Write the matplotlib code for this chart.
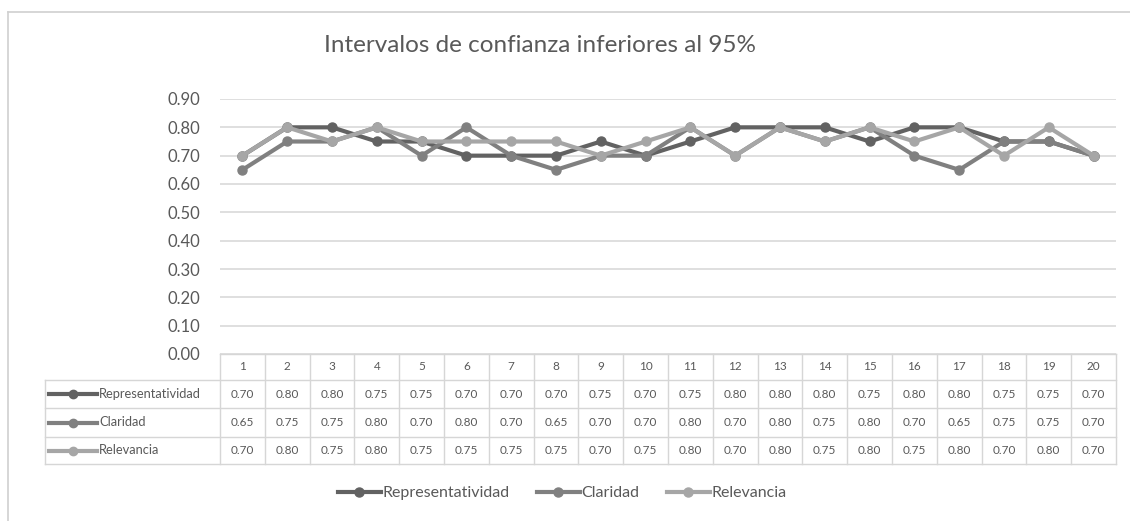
import matplotlib
matplotlib.use("Agg")
import matplotlib.pyplot as plt
from matplotlib.lines import Line2D

plt.rcParams['font.family'] = ['Lato', 'DejaVu Sans']

categories = [str(i) for i in range(1, 21)]
series_names = ["Representatividad", "Claridad", "Relevancia"]
representatividad = [0.70, 0.80, 0.80, 0.75, 0.75, 0.70, 0.70, 0.70, 0.75, 0.70,
                     0.75, 0.80, 0.80, 0.80, 0.75, 0.80, 0.80, 0.75, 0.75, 0.70]
claridad = [0.65, 0.75, 0.75, 0.80, 0.70, 0.80, 0.70, 0.65, 0.70, 0.70,
            0.80, 0.70, 0.80, 0.75, 0.80, 0.70, 0.65, 0.75, 0.75, 0.70]
relevancia = [0.70, 0.80, 0.75, 0.80, 0.75, 0.75, 0.75, 0.75, 0.70, 0.75,
              0.80, 0.70, 0.80, 0.75, 0.80, 0.75, 0.80, 0.70, 0.80, 0.70]
yticks = [0.0, 0.1, 0.2, 0.3, 0.4, 0.5, 0.6, 0.7, 0.8, 0.9]
title = "Intervalos de confianza inferiores al 95%"

series = [representatividad, claridad, relevancia]
colors = ["#626262", "#808080", "#a6a6a6"]
txt = "#595959"
grid = "#d9d9d9"

W, H = 1130, 521
fig = plt.figure(figsize=(W / 100, H / 100), dpi=100)

def fx(px):
    return px / W

def fy(py):
    return 1 - py / H

# main plot
L, R, T, B = 220, 1116, 99, 354
ax = fig.add_axes([fx(L), fy(B), fx(R - L), (B - T) / H])
xs = list(range(len(categories)))
handles = []
for name, vals, c in zip(series_names, series, colors):
    h, = ax.plot(xs, vals, color=c, lw=3.0, marker='o', ms=6.5, mfc=c, mec=c,
                 label=name, solid_joinstyle='round', zorder=3)
    handles.append(h)
ax.set_xlim(-0.5, len(categories) - 0.5)
ax.set_ylim(0, 0.9)
ax.set_yticks(yticks)
ax.set_yticklabels([f"{v:.2f}" for v in yticks])
ax.tick_params(axis='y', length=0, pad=14, labelsize=12, labelcolor=txt)
ax.set_xticks([])
for s in ax.spines.values():
    s.set_visible(False)
ax.yaxis.grid(True, color=grid, lw=1.2)
ax.set_axisbelow(True)

# overlay for frame, title and table
ov = fig.add_axes([0, 0, 1, 1], zorder=-1)
ov.set_xlim(0, W)
ov.set_ylim(H, 0)
ov.axis('off')
ov.plot([8, W], [12, 12], color="#d0d0d0", lw=1.2)
ov.plot([8, 8], [12, H], color="#d0d0d0", lw=1.2)
ov.text(540, 45, title, ha='center', va='center', fontsize=17.5, color=txt)

ov2 = fig.add_axes([0, 0, 1, 1], zorder=5)
ov2.set_xlim(0, W)
ov2.set_ylim(H, 0)
ov2.axis('off')
ov2.patch.set_alpha(0)
n = len(categories)
cw = (R - L) / n
row_edges = [354, 380, 408, 437, 464]
lx = 45
lc = "#d6d6d6"
# horizontal lines
ov2.plot([L, R], [row_edges[0], row_edges[0]], color=lc, lw=1)
for y in row_edges[1:]:
    ov2.plot([lx, R], [y, y], color=lc, lw=1)
# vertical lines
ov2.plot([lx, lx], [row_edges[1], row_edges[-1]], color=lc, lw=1)
for i in range(n + 1):
    ov2.plot([L + i * cw, L + i * cw], [row_edges[0], row_edges[-1]], color=lc, lw=1)
# header
for i, cat in enumerate(categories):
    ov2.text(L + (i + 0.5) * cw, (row_edges[0] + row_edges[1]) / 2, cat,
             ha='center', va='center', fontsize=8.5, color=txt)
for r, (name, vals, c) in enumerate(zip(series_names, series, colors)):
    yc = (row_edges[r + 1] + row_edges[r + 2]) / 2
    ov2.add_line(Line2D([49, 97], [yc, yc], color=c, lw=3.0))
    ov2.add_line(Line2D([73], [yc], color=c, marker='o', ms=6, lw=0))
    ov2.text(99, yc, name, ha='left', va='center', fontsize=9.3, color=txt)
    for i, v in enumerate(vals):
        ov2.text(L + (i + 0.5) * cw, yc, f"{v:.2f}", ha='center', va='center',
                 fontsize=8.5, color=txt)

leg = fig.legend(handles=handles, loc='center', bbox_to_anchor=(fx(562), fy(493)),
                 ncol=3, frameon=False, fontsize=11.5, handlelength=2.7,
                 handletextpad=0.1, columnspacing=1.7, labelcolor=txt)

fig.savefig("out.png", dpi=100)
